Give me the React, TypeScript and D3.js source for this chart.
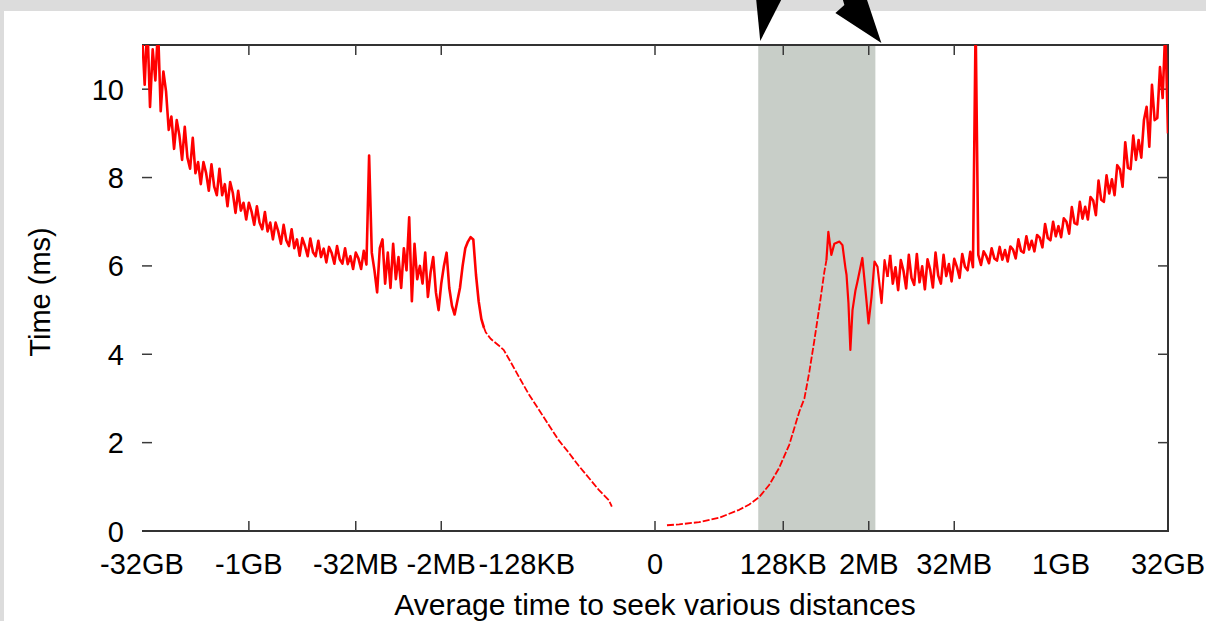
import React, { useRef, useEffect } from "react";
import * as d3 from "d3";

// Seek distances are kept as signed log2(bytes). Everything within 2KB (2^11)
// folds onto 0, so -35 is -32GB and 17 is +128KB.
const xTickValues = [-35, -30, -25, -21, -17, 0, 17, 21, 25, 30, 35];
const xTickLabels = ["-32GB", "-1GB", "-32MB", "-2MB", "-128KB", "0", "128KB", "2MB", "32MB", "1GB", "32GB"];
const xTickMarks = [-30, -25, -21, 0, 17, 21, 25];
const yTickValues = [0, 2, 4, 6, 8, 10];

// shaded region (log2 bytes)
const bandRange = [15.83, 21.31];

const step = 0.125;

// backward seeks, one sample every 1/8 doubling from -32GB up to -512KB
const backStart = -35;
const backNoisy = [
  11.3, 10.1, 11.5, 9.6, 10.9, 10.2, 11.4, 9.5, 10.4, 9.95,
  9.08, 9.38, 8.65, 9.3, 8.95, 8.4, 9.15, 8.45, 8.2, 8.9,
  8.1, 8.35, 7.85, 8.35, 8.1, 7.7, 8.3, 7.8, 7.6, 8.2,
  7.6, 7.85, 7.35, 7.9, 7.65, 7.2, 7.7, 7.25, 7.43, 7.05,
  7.43, 7.23, 6.93, 7.35, 6.98, 6.83, 7.22, 6.78, 6.98, 6.6,
  6.98, 6.78, 6.5, 6.93, 6.58, 6.45, 6.83, 6.4, 6.6, 6.23,
  6.63, 6.45, 6.22, 6.62, 6.31, 6.22, 6.57, 6.2, 6.39, 6.08,
  6.43, 6.29, 6.05, 6.45, 6.15, 6.05, 6.4, 6.04, 6.22, 5.93,
  6.3, 6.17, 5.93, 6.34, 6.03, 8.5, 6.3, 5.9, 5.4, 6.4,
  6.6, 5.6, 6.3, 5.5, 6.5, 5.7, 6.2, 5.5, 6.4, 5.9,
  7.1, 5.2, 6.5, 5.7, 6.0, 5.6, 6.3, 5.3, 5.85, 6.2,
  5.4, 5.0, 5.6, 6.0, 6.3, 5.5, 5.1, 4.9, 5.2, 5.5,
  6.0, 6.4, 6.55, 6.65, 6.6, 5.8, 5.2, 4.8, 4.6,
];

// short backward seeks [log2 distance, ms]
const backTail: [number, number][] = [
  [-19, 4.6], [-18.92, 4.5], [-18.69, 4.35], [-18.31, 4.2], [-18.08, 4.1], [-17.84, 3.9],
  [-17.38, 3.5], [-16.91, 3.1], [-16.44, 2.75], [-15.97, 2.4], [-15.5, 2.05],
  [-15.03, 1.77], [-14.56, 1.47], [-14.09, 1.2], [-13.63, 0.93], [-13.16, 0.7],
  [-13.02, 0.55],
];

// short forward seeks [log2 distance, ms]
const fwdHead: [number, number][] = [
  [11.56, 0.13], [12.13, 0.15], [13.06, 0.2], [14.0, 0.3], [14.94, 0.48],
  [15.41, 0.6], [15.88, 0.77], [16.34, 1.04], [16.81, 1.43], [17.28, 1.95],
  [17.75, 2.7], [17.99, 3.0], [18.22, 3.6], [18.45, 4.3], [18.69, 5.07],
  [18.92, 5.86], [19.02, 6.13],
];

// the bumpy stretch inside and just past the shaded band [log2 distance, ms]
const fwdBump: [number, number][] = [
  [19.02, 6.13], [19.11, 6.77], [19.25, 6.25], [19.39, 6.5],
  [19.63, 6.55], [19.77, 6.47], [19.91, 5.95], [19.96, 5.8], [20.05, 5.16],
  [20.14, 4.1], [20.24, 5.0], [20.38, 5.45], [20.47, 5.64], [20.7, 6.18],
  [20.89, 5.23], [20.99, 4.7], [21.13, 5.3], [21.27, 6.1], [21.41, 5.98],
  [21.6, 5.16], [21.74, 6.13], [21.88, 5.75],
];

// forward seeks, one sample every 1/8 doubling from +4MB to +32GB
const fwdStart = 22;
const fwdNoisy = [
  6.25, 5.6, 5.97, 5.45, 6.13, 5.89, 5.49, 6.25, 5.73, 5.57,
  6.27, 5.63, 5.99, 5.47, 6.15, 5.91, 5.51, 6.3, 5.78, 5.6,
  6.25, 5.77, 6.04, 5.65, 6.16, 5.98, 5.73, 6.27, 5.98, 5.9,
  6.32, 5.97, 11.5, 6.25, 6.02, 6.33, 6.22, 6.06, 6.4, 6.17,
  6.12, 6.43, 6.14, 6.36, 6.1, 6.44, 6.37, 6.17, 6.6, 6.34,
  6.3, 6.67, 6.37, 6.57, 6.33, 6.7, 6.64, 6.42, 6.95, 6.63,
  6.58, 7.0, 6.67, 6.9, 6.65, 7.08, 7.0, 6.73, 7.33, 6.97,
  6.94, 7.45, 7.07, 7.34, 7.05, 7.56, 7.48, 7.15, 7.93, 7.5,
  7.45, 8.05, 7.64, 7.96, 7.6, 8.28, 8.19, 7.79, 8.8, 8.22,
  8.19, 8.95, 8.4, 8.85, 8.45, 9.3, 9.6, 8.7, 10.1, 9.3,
  9.35, 10.5, 9.8, 11.4, 9.0,
];

const FONT = "'Liberation Sans', Arial, Helvetica, sans-serif";

export default function App() {
  const svgRef = useRef<SVGSVGElement>(null);

  useEffect(() => {
    const svg = d3.select(svgRef.current);
    svg.selectAll("*").remove();

    const width = 1206;
    const height = 621;
    const m = { left: 142, right: 1168, top: 45, bottom: 531 };

    const x = d3.scaleLinear().domain([-24, 24]).range([m.left, m.right]);
    const y = d3.scaleLinear().domain([0, 11]).range([m.bottom, m.top]);
    const fold = (e: number) => Math.sign(e) * Math.max(0, Math.abs(e) - 11);
    const xs = (e: number) => x(fold(e));

    // page chrome
    svg.append("rect").attr("width", width).attr("height", height).attr("fill", "#fff");
    svg.append("rect").attr("width", width).attr("height", 11).attr("fill", "#dcdcdc");
    svg.append("rect").attr("width", 4).attr("height", height).attr("fill", "#dcdcdc");

    svg.append("defs")
      .append("clipPath")
      .attr("id", "plot-clip")
      .append("rect")
      .attr("x", m.left)
      .attr("y", m.top)
      .attr("width", m.right - m.left)
      .attr("height", m.bottom - m.top);

    // shaded band
    svg.append("rect")
      .attr("x", xs(bandRange[0]))
      .attr("y", m.top)
      .attr("width", xs(bandRange[1]) - xs(bandRange[0]))
      .attr("height", m.bottom - m.top)
      .attr("fill", "#c8cec8");

    // border (no left edge)
    svg.append("path")
      .attr("d", `M${m.left},${m.top}H${m.right}V${m.bottom}H${m.left}`)
      .attr("fill", "none")
      .attr("stroke", "#333")
      .attr("stroke-width", 2);

    const tickLen = 10;
    const tickColor = "#3a3a3a";

    // y ticks both sides
    yTickValues.filter((v) => v > 0).forEach((v) => {
      svg.append("line")
        .attr("x1", m.left).attr("x2", m.left + tickLen)
        .attr("y1", y(v)).attr("y2", y(v))
        .attr("stroke", tickColor).attr("stroke-width", 1.5);
      svg.append("line")
        .attr("x1", m.right - tickLen).attr("x2", m.right)
        .attr("y1", y(v)).attr("y2", y(v))
        .attr("stroke", tickColor).attr("stroke-width", 1.5);
    });

    // x ticks top and bottom
    xTickMarks.forEach((v) => {
      svg.append("line")
        .attr("x1", xs(v)).attr("x2", xs(v))
        .attr("y1", m.bottom).attr("y2", m.bottom - tickLen)
        .attr("stroke", tickColor).attr("stroke-width", 1.5);
      svg.append("line")
        .attr("x1", xs(v)).attr("x2", xs(v))
        .attr("y1", m.top).attr("y2", m.top + tickLen)
        .attr("stroke", tickColor).attr("stroke-width", 1.5);
    });

    // tick labels
    svg.append("g")
      .selectAll("text")
      .data(yTickValues)
      .join("text")
      .attr("x", 124)
      .attr("y", (d) => y(d) + 10.5)
      .attr("text-anchor", "end")
      .attr("font-family", FONT)
      .attr("font-size", 29)
      .attr("fill", "#000")
      .text((d) => d);

    svg.append("g")
      .selectAll("text")
      .data(xTickValues)
      .join("text")
      .attr("x", (d) => xs(d))
      .attr("y", 574)
      .attr("text-anchor", "middle")
      .attr("font-family", FONT)
      .attr("font-size", 29)
      .attr("fill", "#000")
      .text((_, i) => xTickLabels[i]);

    // axis titles
    svg.append("text")
      .attr("x", (m.left + m.right) / 2)
      .attr("y", 615)
      .attr("text-anchor", "middle")
      .attr("font-family", FONT)
      .attr("font-size", 30)
      .attr("fill", "#000")
      .text("Average time to seek various distances");

    svg.append("text")
      .attr("transform", `translate(50,292) rotate(-90)`)
      .attr("text-anchor", "middle")
      .attr("font-family", FONT)
      .attr("font-size", 29)
      .attr("fill", "#000")
      .text("Time (ms)");

    // data
    const grid = (start: number, vals: number[]) =>
      vals.map((v, i) => [start + i * step, v] as [number, number]);

    const line = d3.line<[number, number]>()
      .x((d) => xs(d[0]))
      .y((d) => y(d[1]));

    const plot = svg.append("g").attr("clip-path", "url(#plot-clip)");
    const series = [
      { pts: grid(backStart, backNoisy), w: 2.6, dash: null },
      { pts: backTail, w: 1.8, dash: "7 2" },
      { pts: fwdHead, w: 1.8, dash: "7 2" },
      { pts: fwdBump, w: 2.2, dash: null },
      { pts: grid(fwdStart, fwdNoisy), w: 2.6, dash: null },
    ];
    series.forEach((s) => {
      plot.append("path")
        .datum(s.pts)
        .attr("d", line)
        .attr("fill", "none")
        .attr("stroke", "#ff0000")
        .attr("stroke-width", s.w)
        .attr("stroke-dasharray", s.dash)
        .attr("stroke-linejoin", "round");
    });
    // join the bump to the noisy forward run
    plot.append("path")
      .datum([fwdBump[fwdBump.length - 1], [fwdStart, fwdNoisy[0]]] as [number, number][])
      .attr("d", line)
      .attr("fill", "none")
      .attr("stroke", "#ff0000")
      .attr("stroke-width", 2.2);

    // arrows pointing at the band edges
    const arrowHeads = [
      { tip: [xs(bandRange[0]) + 2, m.top - 4], pts: [[-5, -51], [26, -51], [0, 0]] },
      { tip: [xs(bandRange[1]) + 6, m.top - 2], pts: [[-39, -45], [-15, -45], [0, 0], [-46, -30], [-37, -38]] },
    ];
    arrowHeads.forEach((a) => {
      svg.append("polygon")
        .attr("points", a.pts.map((p) => `${a.tip[0] + p[0]},${a.tip[1] + p[1]}`).join(" "))
        .attr("fill", "#000");
    });
  }, []);

  return (
    <svg
      ref={svgRef}
      width={1206}
      height={621}
      style={{ position: "absolute", left: 0, top: 0, display: "block" }}
    />
  );
}
